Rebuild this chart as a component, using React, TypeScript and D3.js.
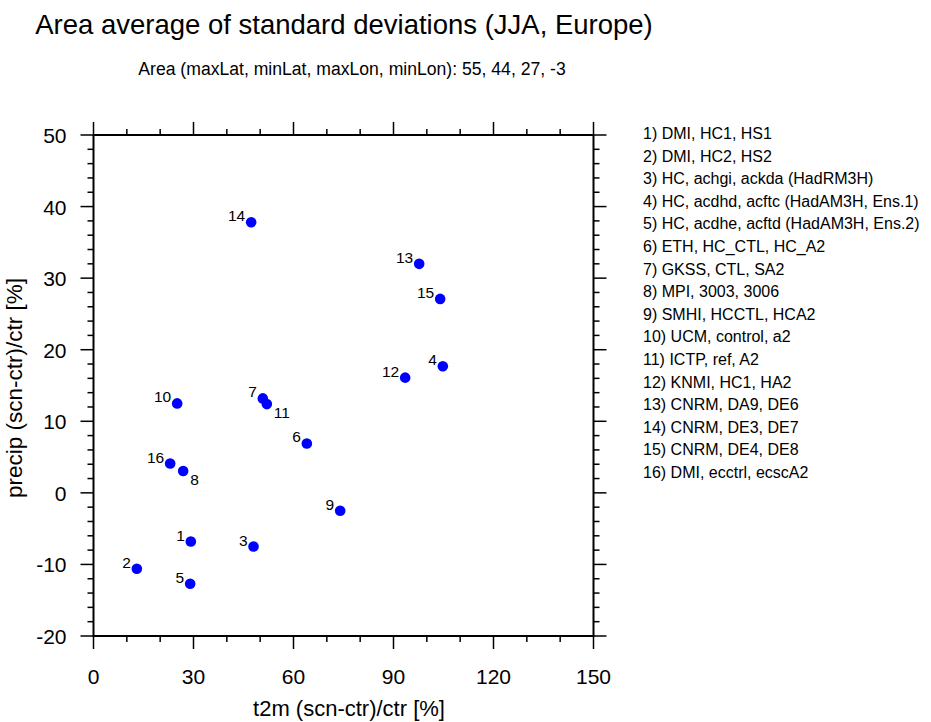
import * as d3 from "d3";

const ids = ["1", "2", "3", "4", "5", "6", "7", "8", "9", "10", "11", "12", "13", "14", "15", "16"];
const t2m = [29.2, 13.0, 48.0, 104.8, 29.0, 64.0, 50.8, 26.9, 74.0, 25.1, 52.0, 93.5, 97.7, 47.3, 104.0, 23.0];
const precip = [-6.8, -10.6, -7.5, 17.7, -12.7, 6.9, 13.2, 3.05, -2.5, 12.5, 12.4, 16.1, 32.0, 37.8, 27.1, 4.1];
// labels below-right of the point instead of above-left
const belowRight = ["8", "11"];
const legendLabels = [
  "DMI, HC1, HS1",
  "DMI, HC2, HS2",
  "HC, achgi, ackda (HadRM3H)",
  "HC, acdhd, acftc (HadAM3H, Ens.1)",
  "HC, acdhe, acftd (HadAM3H, Ens.2)",
  "ETH, HC_CTL, HC_A2",
  "GKSS, CTL, SA2",
  "MPI, 3003, 3006",
  "SMHI, HCCTL, HCA2",
  "UCM, control, a2",
  "ICTP, ref, A2",
  "KNMI, HC1, HA2",
  "CNRM, DA9, DE6",
  "CNRM, DE3, DE7",
  "CNRM, DE4, DE8",
  "DMI, ecctrl, ecscA2",
];
const xMajor = [0, 30, 60, 90, 120, 150];
const yMajor = [-20, -10, 0, 10, 20, 30, 40, 50];

const font = "'Liberation Sans', Arial, Helvetica, sans-serif";

export default function App() {
  const width = 931;
  const height = 722;
  const left = 93.5;
  const right = 593.5;
  const top = 135;
  const bottom = 636;

  const x = d3.scaleLinear([0, 150], [left, right]);
  const y = d3.scaleLinear([-20, 50], [bottom, top]);
  const xMinor = d3.range(0, 151, 10).filter((v) => !xMajor.includes(v));
  const yMinor = d3.range(-20, 51, 2).filter((v) => !yMajor.includes(v));

  const points = ids.map((id, i) => ({ id, x: t2m[i], y: precip[i] }));

  return (
    <svg
      width={width}
      height={height}
      style={{ position: "absolute", left: 0, top: 0, background: "white" }}
      fontFamily={font}
    >
      <text x={344} y={34} textAnchor="middle" fontSize={27.5}>
        Area average of standard deviations (JJA, Europe)
      </text>
      <text x={352} y={75} textAnchor="middle" fontSize={17.6}>
        Area (maxLat, minLat, maxLon, minLon): 55, 44, 27, -3
      </text>

      <g stroke="black" strokeWidth={1.5}>
        {xMajor.map((v) => (
          <g key={"xM" + v}>
            <line x1={x(v)} x2={x(v)} y1={bottom} y2={bottom + 13} />
            <line x1={x(v)} x2={x(v)} y1={top} y2={top - 13} />
          </g>
        ))}
        {xMinor.map((v) => (
          <g key={"xm" + v}>
            <line x1={x(v)} x2={x(v)} y1={bottom} y2={bottom + 6} />
            <line x1={x(v)} x2={x(v)} y1={top} y2={top - 6} />
          </g>
        ))}
        {yMajor.map((v) => (
          <g key={"yM" + v}>
            <line x1={left} x2={left - 13} y1={y(v)} y2={y(v)} />
            <line x1={right} x2={right + 13} y1={y(v)} y2={y(v)} />
          </g>
        ))}
        {yMinor.map((v) => (
          <g key={"ym" + v}>
            <line x1={left} x2={left - 6} y1={y(v)} y2={y(v)} />
            <line x1={right} x2={right + 6} y1={y(v)} y2={y(v)} />
          </g>
        ))}
      </g>
      <rect
        x={left}
        y={top}
        width={right - left}
        height={bottom - top}
        fill="none"
        stroke="black"
        strokeWidth={2}
      />

      <g fontSize={21}>
        {xMajor.map((v) => (
          <text key={"xl" + v} x={x(v)} y={bottom + 48} textAnchor="middle">
            {v}
          </text>
        ))}
        {yMajor.map((v) => (
          <text key={"yl" + v} x={left - 27} y={y(v) + 8} textAnchor="end">
            {v}
          </text>
        ))}
      </g>
      <text x={349} y={716} textAnchor="middle" fontSize={22}>
        t2m (scn-ctr)/ctr [%]
      </text>
      <text
        transform={`translate(22,388) rotate(-90)`}
        textAnchor="middle"
        fontSize={22.5}
      >
        precip (scn-ctr)/ctr [%]
      </text>

      <g>
        {points.map((p) => (
          <circle key={"c" + p.id} cx={x(p.x)} cy={y(p.y)} r={5.3} fill="#0000ff" />
        ))}
      </g>
      <g fontSize={15.5}>
        {points.map((p) =>
          belowRight.includes(p.id) ? (
            <text key={"t" + p.id} x={x(p.x) + 7} y={y(p.y) + 14}>
              {p.id}
            </text>
          ) : (
            <text key={"t" + p.id} x={x(p.x) - 6} y={y(p.y) - 1} textAnchor="end">
              {p.id}
            </text>
          )
        )}
      </g>

      <g fontSize={16}>
        {legendLabels.map((l, i) => (
          <text key={"lg" + i} x={643} y={139 + i * 22.6}>
            {`${i + 1}) ${l}`}
          </text>
        ))}
      </g>
    </svg>
  );
}
